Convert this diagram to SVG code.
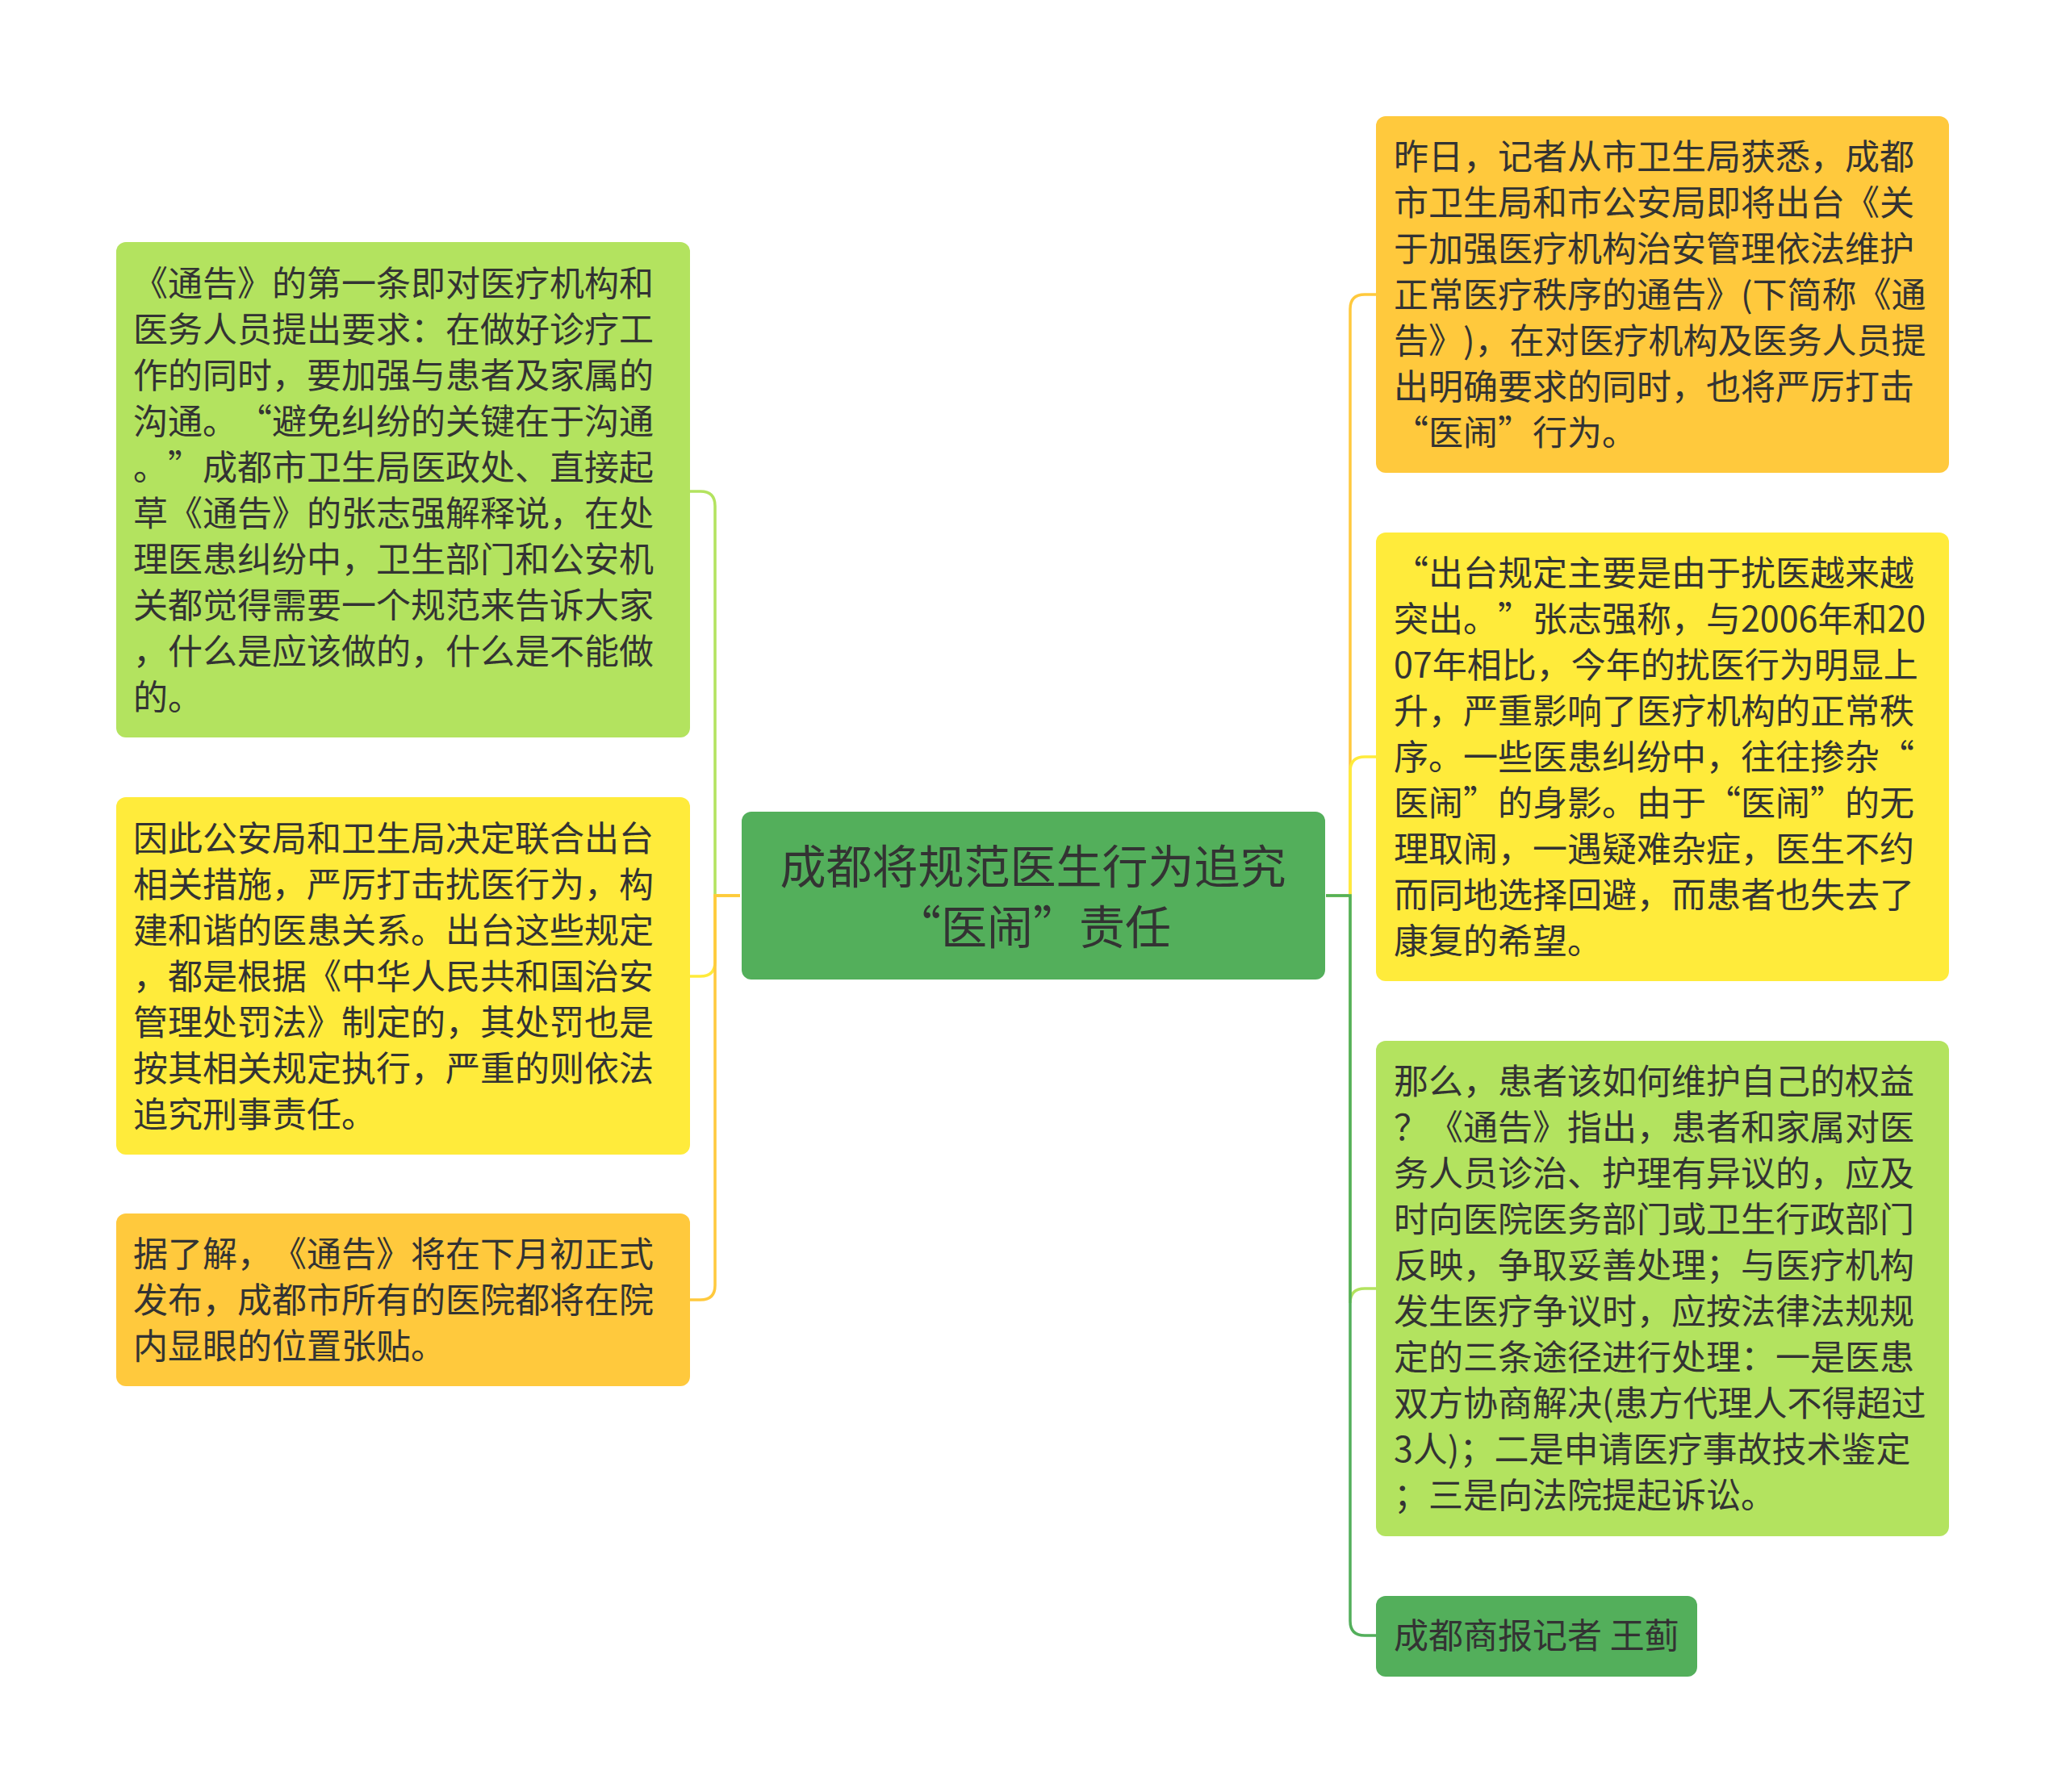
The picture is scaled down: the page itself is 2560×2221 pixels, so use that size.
<svg xmlns="http://www.w3.org/2000/svg" width="2560" height="2221" viewBox="0 0 2560 2221">
<style>
text{text-spacing-trim:space-all}
.t{font-family:"Noto Sans CJK SC","Noto Sans",sans-serif;font-size:43px;fill:#333333}
.c{font-family:"Noto Sans CJK SC","Noto Sans",sans-serif;font-size:57px;fill:#333333;text-anchor:middle}
.lg{fill:#B3E35F}
.ye{fill:#FFEB3B}
.or{fill:#FFC93D}
.gr{fill:#53AF5B}
.ln{fill:none;stroke-width:3.5}
</style>
<rect width="2560" height="2221" fill="#ffffff"/>
<g id="connectors">
<path class="ln" stroke="#B3E35F" d="M917,1110 H886 V627 Q886,609 868,609 H855"/>
<path class="ln" stroke="#FFEB3B" d="M917,1110 H886 V1192 Q886,1210 868,1210 H855"/>
<path class="ln" stroke="#FFC93D" d="M917,1110 H886 V1593 Q886,1611 868,1611 H855"/>
<path class="ln" stroke="#FFC93D" d="M1643,1110 H1673 V383 Q1673,365 1691,365 H1705"/>
<path class="ln" stroke="#FFEB3B" d="M1643,1110 H1673 V956 Q1673,938 1691,938 H1705"/>
<path class="ln" stroke="#B3E35F" d="M1643,1110 H1673 V1615 Q1673,1597 1691,1597 H1705"/>
<path class="ln" stroke="#53AF5B" d="M1643,1110 H1673 V2009 Q1673,2027 1691,2027 H1705"/>
</g>
<g id="center">
<rect class="gr" x="919" y="1006" width="723" height="208" rx="12"/>
<text class="c" x="1280" y="1095">成都将规范医生行为追究</text>
<text class="c" x="1280" y="1170">“医闹”责任</text>
</g>
<g id="left1">
<rect class="lg" x="144" y="300" width="711" height="614" rx="12"/>
<text class="t" x="165" y="367">《通告》的第一条即对医疗机构和</text>
<text class="t" x="165" y="424">医务人员提出要求：在做好诊疗工</text>
<text class="t" x="165" y="481">作的同时，要加强与患者及家属的</text>
<text class="t" x="165" y="538">沟通。“避免纠纷的关键在于沟通</text>
<text class="t" x="165" y="595">。”成都市卫生局医政处、直接起</text>
<text class="t" x="165" y="652">草《通告》的张志强解释说，在处</text>
<text class="t" x="165" y="709">理医患纠纷中，卫生部门和公安机</text>
<text class="t" x="165" y="766">关都觉得需要一个规范来告诉大家</text>
<text class="t" x="165" y="823">，什么是应该做的，什么是不能做</text>
<text class="t" x="165" y="880">的。</text>
</g>
<g id="left2">
<rect class="ye" x="144" y="988" width="711" height="443" rx="12"/>
<text class="t" x="165" y="1055">因此公安局和卫生局决定联合出台</text>
<text class="t" x="165" y="1112">相关措施，严厉打击扰医行为，构</text>
<text class="t" x="165" y="1169">建和谐的医患关系。出台这些规定</text>
<text class="t" x="165" y="1226">，都是根据《中华人民共和国治安</text>
<text class="t" x="165" y="1283">管理处罚法》制定的，其处罚也是</text>
<text class="t" x="165" y="1340">按其相关规定执行，严重的则依法</text>
<text class="t" x="165" y="1397">追究刑事责任。</text>
</g>
<g id="left3">
<rect class="or" x="144" y="1504" width="711" height="214" rx="12"/>
<text class="t" x="165" y="1570">据了解，《通告》将在下月初正式</text>
<text class="t" x="165" y="1627">发布，成都市所有的医院都将在院</text>
<text class="t" x="165" y="1684">内显眼的位置张贴。</text>
</g>
<g id="right1">
<rect class="or" x="1705" y="144" width="710" height="442" rx="12"/>
<text class="t" x="1727" y="210">昨日，记者从市卫生局获悉，成都</text>
<text class="t" x="1727" y="267">市卫生局和市公安局即将出台《关</text>
<text class="t" x="1727" y="324">于加强医疗机构治安管理依法维护</text>
<text class="t" x="1727" y="381">正常医疗秩序的通告》(下简称《通</text>
<text class="t" x="1727" y="438">告》)，在对医疗机构及医务人员提</text>
<text class="t" x="1727" y="495">出明确要求的同时，也将严厉打击</text>
<text class="t" x="1727" y="552">“医闹”行为。</text>
</g>
<g id="right2">
<rect class="ye" x="1705" y="660" width="710" height="556" rx="12"/>
<text class="t" x="1727" y="726">“出台规定主要是由于扰医越来越</text>
<text class="t" x="1727" y="783">突出。”张志强称，与2006年和20</text>
<text class="t" x="1727" y="840">07年相比，今年的扰医行为明显上</text>
<text class="t" x="1727" y="897">升，严重影响了医疗机构的正常秩</text>
<text class="t" x="1727" y="954">序。一些医患纠纷中，往往掺杂“</text>
<text class="t" x="1727" y="1011">医闹”的身影。由于“医闹”的无</text>
<text class="t" x="1727" y="1068">理取闹，一遇疑难杂症，医生不约</text>
<text class="t" x="1727" y="1125">而同地选择回避，而患者也失去了</text>
<text class="t" x="1727" y="1182">康复的希望。</text>
</g>
<g id="right3">
<rect class="lg" x="1705" y="1290" width="710" height="614" rx="12"/>
<text class="t" x="1727" y="1356">那么，患者该如何维护自己的权益</text>
<text class="t" x="1727" y="1413">？《通告》指出，患者和家属对医</text>
<text class="t" x="1727" y="1470">务人员诊治、护理有异议的，应及</text>
<text class="t" x="1727" y="1527">时向医院医务部门或卫生行政部门</text>
<text class="t" x="1727" y="1584">反映，争取妥善处理；与医疗机构</text>
<text class="t" x="1727" y="1641">发生医疗争议时，应按法律法规规</text>
<text class="t" x="1727" y="1698">定的三条途径进行处理：一是医患</text>
<text class="t" x="1727" y="1755">双方协商解决(患方代理人不得超过</text>
<text class="t" x="1727" y="1812">3人)；二是申请医疗事故技术鉴定</text>
<text class="t" x="1727" y="1869">；三是向法院提起诉讼。</text>
</g>
<g id="right4">
<rect class="gr" x="1705" y="1978" width="398" height="100" rx="12"/>
<text class="t" x="1727" y="2043">成都商报记者 王蓟</text>
</g>
</svg>
